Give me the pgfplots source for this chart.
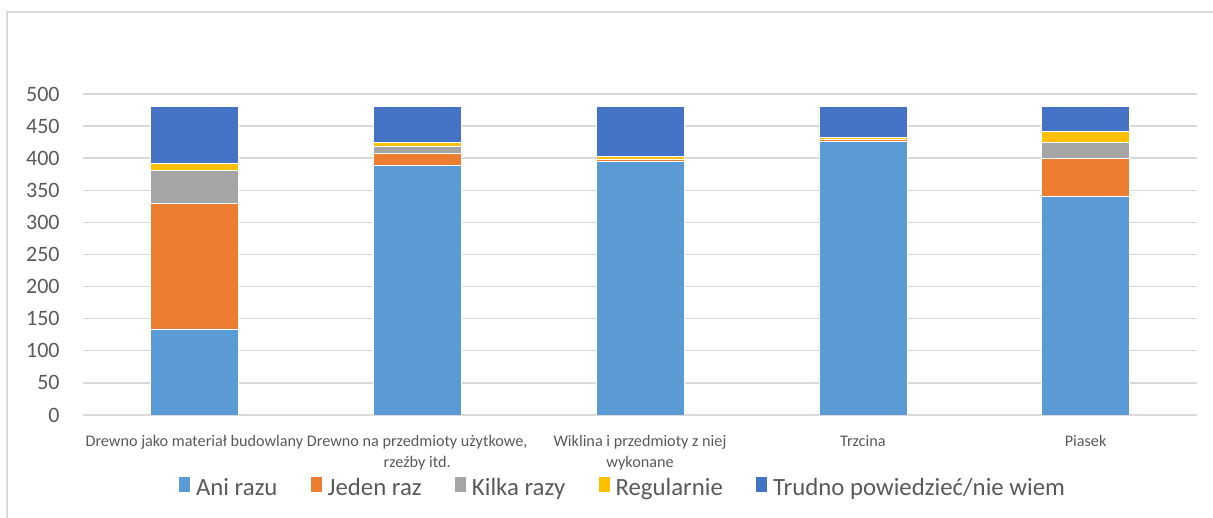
\documentclass[border=0pt]{standalone}
\usepackage{pgfplots}
\pgfplotsset{compat=1.18}
\usepackage{fontspec}
\setmainfont{Carlito}

\definecolor{cAni}{HTML}{5B9BD5}
\definecolor{cJeden}{HTML}{ED7D31}
\definecolor{cKilka}{HTML}{A5A5A5}
\definecolor{cReg}{HTML}{FFC000}
\definecolor{cTrudno}{HTML}{4472C4}
\definecolor{gridgray}{HTML}{D9D9D9}
\definecolor{txt}{HTML}{595959}

\pgfplotsset{
  ybar legend/.style={
    /pgfplots/legend image code/.code={%
      \fill[##1] (0pt,-3.5pt) rectangle (7pt,3.5pt);}
  }
}

\begin{document}
\begin{tikzpicture}
  \useasboundingbox (0pt,0pt) rectangle (606.5pt,259pt);
  % chart area frame
  \draw[gridgray, line width=0.6pt] (3.5pt,0pt) -- (3.5pt,253pt) -- (606.5pt,253pt);
  \begin{axis}[
    at={(41.5pt,51.5pt)}, anchor=south west,
    width=557pt, height=160.5pt, scale only axis,
    ybar stacked, bar width=44pt,
    xmin=-0.5, xmax=4.5, ymin=0, ymax=500,
    xtick=data,
    xticklabels={
      {Drewno jako materiał budowlany},
      {Drewno na przedmioty użytkowe,\\ rzeźby itd.},
      {Wiklina i przedmioty z niej\\ wykonane},
      {Trzcina},
      {Piasek}},
    ytick={0,50,...,500},
    ymajorgrids, grid style={gridgray, line width=0.7pt},
    axis line style={draw=none},
    major tick length=0pt,
    /pgf/number format/assume math mode=true,
    tick label style={text=txt},
    yticklabel style={font=\fontsize{11}{13}\selectfont, anchor=east, inner sep=0pt, xshift=-11.5pt},
    xticklabel style={font=\fontsize{8.1}{10.3}\selectfont, align=center, anchor=north, inner sep=0pt, yshift=-10pt},
    legend columns=5,
    legend style={draw=none, fill=none, text=txt,
      font=\fontsize{12.4}{14}\selectfont,
      at={(axis description cs:0.4847,-0.2274)}, anchor=center,
      /tikz/every odd column/.append style={column sep=1.3pt},
      /tikz/every even column/.append style={column sep=15pt},
      nodes={inner sep=1.25pt}},
    every axis plot/.append style={draw=white, line width=0.3pt},
  ]
    \addplot[fill=cAni] coordinates {(0,134) (1,389) (2,395) (3,426) (4,341)};
    \addplot[fill=cJeden] coordinates {(0,196) (1,19) (2,3) (3,4) (4,59)};
    \addplot[fill=cKilka] coordinates {(0,51) (1,11) (2,1) (3,0) (4,25)};
    \addplot[fill=cReg] coordinates {(0,11) (1,6) (2,4) (3,3) (4,17)};
    \addplot[fill=cTrudno] coordinates {(0,89) (1,56) (2,78) (3,48) (4,39)};
    \legend{Ani razu, Jeden raz, Kilka razy, Regularnie, Trudno powiedzieć/nie wiem}
  \end{axis}
\end{tikzpicture}
\end{document}
